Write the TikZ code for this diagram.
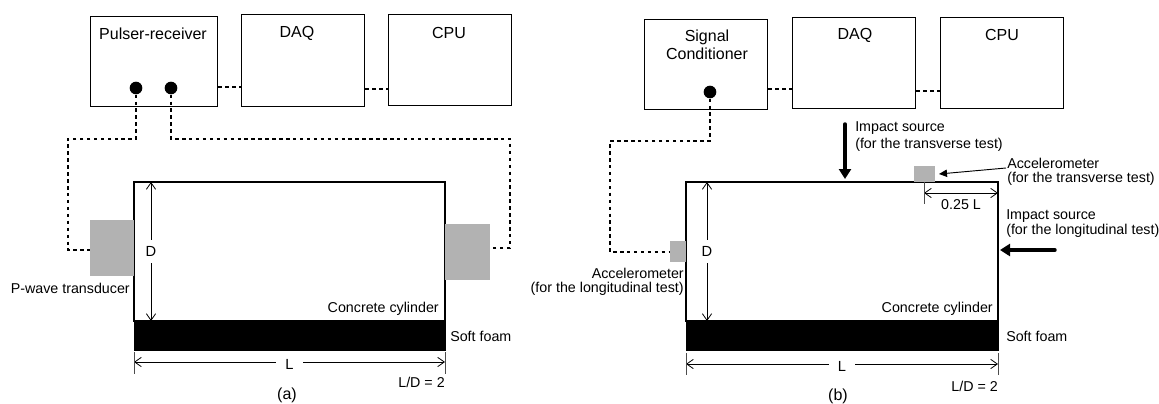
\documentclass[tikz,border=0pt]{standalone}
\usepackage{fontspec}
\setmainfont{Liberation Sans}
\usetikzlibrary{arrows.meta}
\tikzset{
  bx/.style 2 args={draw=black,line width=1.2pt,fill=white,inner sep=0pt,minimum width=#1*0.75pt,minimum height=#2*0.75pt},
  gray block/.style 2 args={fill=black!30,draw=none,inner sep=0pt,minimum width=#1*0.75pt,minimum height=#2*0.75pt},
  foam/.style 2 args={fill=black,draw=none,inner sep=0pt,minimum width=#1*0.75pt,minimum height=#2*0.75pt},
  port/.style={circle,fill=black,inner sep=0pt,minimum size=9.5pt},
  txt/.style={inner sep=0pt,font=\fontsize{10.7pt}{12pt}\selectfont},
  ttl/.style={inner sep=0pt,font=\fontsize{12pt}{13.5pt}\selectfont},
  dimlab/.style={fill=white,font=\fontsize{11pt}{13pt}\selectfont},
  wire/.style={draw=black,line width=0.85pt,dash pattern=on 2.6pt off 2.6pt},
  dim/.style={draw=black,line width=0.6pt,{Straight Barb[length=5pt,width=7pt]}-{Straight Barb[length=5pt,width=7pt]}},
  tick/.style={draw=black!70,line width=0.7pt},
  heavy/.style={draw=black,line width=2.6pt,line cap=round,-{Triangle[length=7.5pt,width=9pt]}},
  lead/.style={draw=black,line width=0.7pt,-{Triangle[length=6pt,width=5.5pt]}}
}
\begin{document}
\begin{tikzpicture}[x=0.75pt,y=-0.75pt]
\useasboundingbox[fill=white] (0,0) rectangle (1159,403);

% ---------- panel (a)
\node[bx={127}{90}] (pr) at (154,61.5) {};
\node[bx={123}{92}] (daqa) at (303,60.5) {};
\node[bx={123}{91}] (cpua) at (450,60) {};
\node[ttl] (prt) at (153,34) {Pulser-receiver};
\node[ttl] (daqat) at (297,33) {DAQ};
\node[ttl] (cpuat) at (449,33) {CPU};
\node[port] (p1) at (136,88) {};
\node[port] (p2) at (171,88) {};

\node[bx={311}{139}] (cyla) at (289.5,251.5) {};
\node[foam={312}{30}] (foama) at (289.5,335.5) {};
\node[gray block={44}{56}] (tl) at (112,248) {};
\node[gray block={45}{56}] (tr) at (467.5,252) {};

\coordinate (a1) at (136,139);
\coordinate (a2) at (68,139);
\coordinate (a3) at (68,250);
\coordinate (a4) at (171,139);
\coordinate (a5) at (510,139);
\coordinate (a6) at (510,248);
\draw[wire] (p1) -- (a1) -- (a2) -- (a3) -- (tl.west |- a3);
\draw[wire] (p2) -- (a4) -- (a5) -- (a6) -- (tr.east |- a6);
\draw[wire] (pr.east |- 0,87) -- (daqa.west |- 0,87);
\draw[wire] (daqa.east |- 0,89) -- (cpua.west |- 0,89);

\coordinate (dat) at (151,182);
\coordinate (dab) at (151,321);
\draw[dim] (dat) -- node[midway,dimlab,inner xsep=2pt,inner ysep=5pt] (da) {D} (dab);
\coordinate (la) at (134,362);
\coordinate (lb) at (445,362);
\draw[dim] (la) -- node[midway,dimlab,inner xsep=7pt,inner ysep=3pt,yshift=-2pt] (lla) {L} (lb);
\coordinate (la1) at (134,352);
\coordinate (la2) at (134,374);
\coordinate (lb1) at (445,352);
\coordinate (lb2) at (445,374);
\draw[tick] (la1) -- (la2);
\draw[tick] (lb1) -- (lb2);

\node[txt,anchor=east] (pw) at (130,288) {P-wave transducer};
\node[txt,anchor=east] (cca) at (439,309) {Concrete cylinder};
\node[txt,anchor=west] (sfa) at (450,336) {Soft foam};
\node[txt,anchor=east] (lda) at (445,382) {L/D = 2};
\node[ttl] (capa) at (287,395) {(a)};

% ---------- panel (b)
\node[bx={123}{90}] (sc) at (706,64.5) {};
\node[bx={123}{91}] (daqb) at (854,63) {};
\node[bx={123}{91}] (cpub) at (1002,63) {};
\node[ttl,align=center] (sct) at (707,45) {Signal\\Conditioner};
\node[ttl] (daqbt) at (855,35) {DAQ};
\node[ttl] (cpubt) at (1002,35) {CPU};
\node[port] (p3) at (710,92) {};

\node[bx={312}{139}] (cylb) at (842,251.5) {};
\node[foam={313}{30}] (foamb) at (842,336) {};
\node[gray block={16}{21}] (ga) at (678,251.5) {};
\node[gray block={21}{16}] (gt) at (924,174) {};

\coordinate (b1) at (710,141);
\coordinate (b2) at (610,141);
\coordinate (b3) at (610,252);
\draw[wire] (p3) -- (b1) -- (b2) -- (b3) -- (ga.west |- b3);
\draw[wire] (sc.east |- 0,89) -- (daqb.west |- 0,89);
\draw[wire] (daqb.east |- 0,91) -- (cpub.west |- 0,91);

\coordinate (dbt) at (707,182);
\coordinate (dbb) at (707,321);
\draw[dim] (dbt) -- node[midway,dimlab,inner xsep=2pt,inner ysep=5pt] (db) {D} (dbb);
\coordinate (lc) at (686,364);
\coordinate (ld) at (998,364);
\draw[dim] (lc) -- node[midway,dimlab,inner xsep=7pt,inner ysep=3pt,yshift=-2pt] (llb) {L} (ld);
\coordinate (lc1) at (686,353);
\coordinate (lc2) at (686,375);
\coordinate (ld1) at (998,353);
\coordinate (ld2) at (998,375);
\draw[tick] (lc1) -- (lc2);
\draw[tick] (ld1) -- (ld2);

\coordinate (qa) at (924,193);
\coordinate (qb) at (998,193);
\draw[dim] (qa) -- (qb);
\coordinate (qa1) at (924,182);
\coordinate (qa2) at (924,204);
\draw[tick] (qa1) -- (qa2);
\node[txt] (q) at (961,205) {0.25 L};

\coordinate (i1) at (845,124);
\coordinate (i2) at (845,179);
\draw[heavy] (i1) -- (i2);
\coordinate (i3) at (1055,250);
\coordinate (i4) at (1000,250);
\draw[heavy] (i3) -- (i4);
\node[txt,anchor=west] (it1) at (855,128) {Impact source};
\node[txt,anchor=west] (it2) at (855,145) {(for the transverse test)};
\node[txt,anchor=west] (at1) at (1007,163) {Accelerometer};
\node[txt,anchor=west] (at2) at (1007,179) {(for the transverse test)};
\coordinate (ls) at (1006,168);
\coordinate (lt) at (939,174);
\draw[lead] (ls) -- (lt);
\node[txt,anchor=west] (il1) at (1006,216) {Impact source};
\node[txt,anchor=west] (il2) at (1006,231) {(for the longitudinal test)};
\node[txt,anchor=east] (al1) at (684,273) {Accelerometer};
\node[txt,anchor=east] (al2) at (684,289) {(for the longitudinal test)};
\node[txt,anchor=east] (ccb) at (993,309) {Concrete cylinder};
\node[txt,anchor=west] (sfb) at (1006,336) {Soft foam};
\node[txt,anchor=east] (ldb) at (998,386) {L/D = 2};
\node[ttl] (capb) at (838,396) {(b)};
\end{tikzpicture}
\end{document}
